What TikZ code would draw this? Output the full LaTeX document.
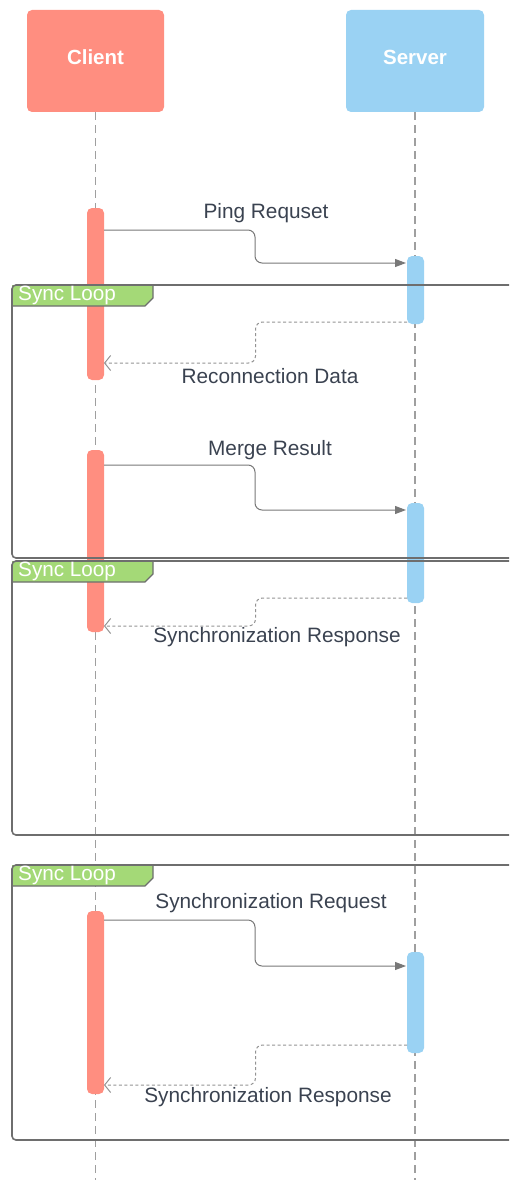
\documentclass[tikz,border=0pt]{standalone}
\usepackage{fontspec}
\setmainfont{Liberation Sans}
\usetikzlibrary{arrows.meta, positioning, calc}
\definecolor{clientred}{RGB}{255, 142, 128}
\definecolor{serverblue}{RGB}{154, 210, 243}
\definecolor{loopgreen}{RGB}{164, 217, 119}
\definecolor{framegray}{RGB}{110, 110, 110}
\definecolor{msggray}{RGB}{120, 120, 120}
\definecolor{textslate}{RGB}{58, 66, 80}
\newcommand{\syncframe}[3]{%
    \fill[loopgreen] (12,#2) -- (153,#2) -- (153,#2+13) -- (145,#2+21) -- (12,#2+21) -- cycle;
    \draw[framegray, line width=1.2pt] (153,#2) -- (153,#2+13) -- (145,#2+21) -- (12,#2+21);
    \draw[framegray, line width=1.6pt, rounded corners=4pt] (540,#2) -- (12,#2) -- (12,#3) -- (540,#3);
    \node[looptag] (#1) at (18,#2+10.5) {Sync Loop};
}

\begin{document}
\begin{tikzpicture}[x=1pt, y=-1pt,
    actor/.style={rectangle, rounded corners=5pt, fill=#1, minimum width=137pt, minimum height=102pt, text depth=7pt, text=white, font=\fontsize{20.5}{24}\selectfont\bfseries},
    bar/.style={rectangle, rounded corners=5pt, fill=#1, minimum width=17pt, inner sep=0pt},
    lifeline/.style={draw=gray!75, line width=1.2pt, dash pattern=on 8pt off 5pt},
    call/.style={draw=msggray, line width=1pt, rounded corners=7pt, -{Triangle[length=11pt, width=8pt]}},
    reply/.style={draw=gray!85, line width=1pt, dash pattern=on 3pt off 2.5pt, rounded corners=7pt, -{Straight Barb[length=6pt, width=15pt]}},
    msglabel/.style={text=textslate, font=\fontsize{20.8}{24}\selectfont, inner sep=0pt},
    looptag/.style={anchor=west, text=white, font=\fontsize{20.7}{24}\selectfont, inner sep=0pt}
]
    \clip (0,0) rectangle (509,1180);

    \node[actor=clientred] (client) at (95.5,61) {Client};
    \node[actor=serverblue, minimum width=138pt] (server) at (415,61) {Server};

    \coordinate (client-end) at (95.5,1180);
    \coordinate (server-end) at (415,1180);
    \draw[lifeline] (client) -- (client-end);
    \draw[lifeline] (server) -- (server-end);

    % activation bars
    \node[bar=clientred, minimum height=172pt] (c1) at (95.5,294) {};
    \node[bar=serverblue, minimum height=68pt] (s1) at (415.5,290) {};
    \node[bar=clientred, minimum height=182pt] (c2) at (95.5,541) {};
    \node[bar=serverblue, minimum height=100pt] (s2) at (415.5,553) {};
    \node[bar=clientred, minimum height=183pt] (c3) at (95.5,1002.5) {};
    \node[bar=serverblue, minimum height=101pt] (s3) at (415.5,1002.5) {};

    % loop frames
    \syncframe{loop1}{285}{558}
    \syncframe{loop2}{561}{835}
    \syncframe{loop3}{865}{1140}

    % message ends
    \coordinate (ping-out) at (104,230);
    \coordinate (ping-in) at (406,263);
    \coordinate (recon-out) at (407,322);
    \coordinate (recon-in) at (104,363);
    \coordinate (merge-out) at (104,465);
    \coordinate (merge-in) at (406,510);
    \coordinate (resp1-out) at (407,598);
    \coordinate (resp1-in) at (104,626);
    \coordinate (req-out) at (104,920);
    \coordinate (req-in) at (406,966);
    \coordinate (resp2-out) at (407,1045);
    \coordinate (resp2-in) at (104,1085);

    \draw[call] (ping-out) -| ($(ping-out)!.5!(ping-in)$) |- (ping-in);
    \draw[reply] (recon-out) -| ($(recon-out)!.5!(recon-in)$) |- (recon-in);
    \draw[call] (merge-out) -| ($(merge-out)!.5!(merge-in)$) |- (merge-in);
    \draw[reply] (resp1-out) -| ($(resp1-out)!.5!(resp1-in)$) |- (resp1-in);
    \draw[call] (req-out) -| ($(req-out)!.5!(req-in)$) |- (req-in);
    \draw[reply] (resp2-out) -| ($(resp2-out)!.5!(resp2-in)$) |- (resp2-in);

    % message labels
    \node[msglabel] (ping) at (266,213) {Ping Requset};
    \node[msglabel] (recon) at (270,376) {Reconnection Data};
    \node[msglabel] (merge) at (270,450) {Merge Result};
    \node[msglabel] (resp1) at (277,637) {Synchronization Response};
    \node[msglabel] (req) at (271,903) {Synchronization Request};
    \node[msglabel] (resp2) at (268,1097) {Synchronization Response};
\end{tikzpicture}
\end{document}
